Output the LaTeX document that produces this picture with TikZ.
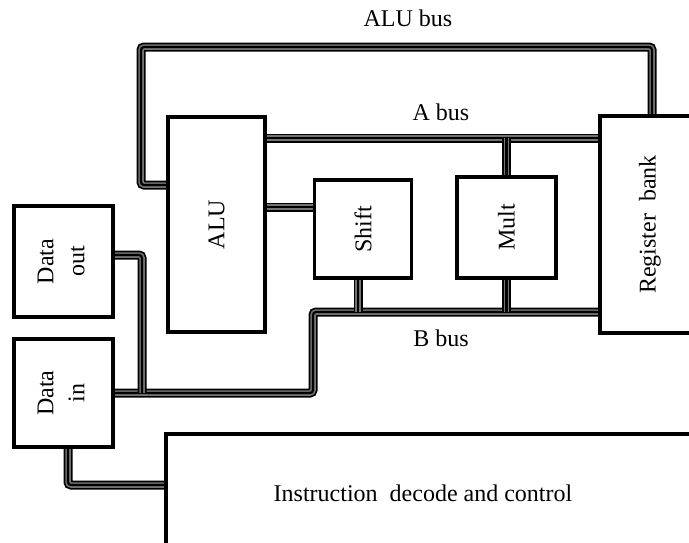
\documentclass[tikz,border=0pt]{standalone}
\usepackage{fontspec}
\setmainfont{Liberation Serif}
\usepackage{graphicx}
\begin{document}
\begin{tikzpicture}[x=1pt,y=-1pt,
  box/.style={draw=black, line width=3.5pt, fill=white, inner sep=0pt, rectangle},
  bus/.style={draw=black, line width=9pt, rounded corners=3pt,
     postaction={draw=black!55, line width=5.5pt, rounded corners=3pt},
     postaction={draw=black, line width=2.2pt, rounded corners=3pt}},
  lbl/.style={inner sep=0pt},
  every node/.style={font=\fontsize{24}{27}\selectfont}]
\clip (0,0) rectangle (689,542);
\fill[white] (0,0) rectangle (689,542);
% nodes (placed first so their anchors can be used)
\node[box, minimum width=97pt, minimum height=215pt] (alu) at (216.5,224.5) {\rotatebox{90}{ALU}};
\node[box, minimum width=97pt, minimum height=98pt] (shift) at (363,229) {\rotatebox{90}{Shift}};
\node[box, minimum width=99pt, minimum height=101pt] (mult) at (506.5,227.5) {\rotatebox{90}{Mult}};
\node[box, minimum width=100pt, minimum height=217pt] (reg) at (650,224.5) {\rotatebox{90}{Register\ \ bank}};
\node[box, minimum width=99pt, minimum height=111pt] (dout) at (63.5,261.5) {\rotatebox{90}{\begin{tabular}{@{}c@{}}Data\\[4pt] out\end{tabular}}};
\node[box, minimum width=99pt, minimum height=108pt] (din) at (63.5,393) {\rotatebox{90}{\begin{tabular}{@{}c@{}}Data\\[4pt] in\end{tabular}}};
\node[box, minimum width=540pt, minimum height=118pt] (instr) at (436,493) {\hspace*{-26pt}Instruction\ \ decode and control};
% coordinates
\coordinate (c1) at (141,185);
\coordinate (c2) at (141,47);
\coordinate (c3) at (652,47);
\coordinate (ay) at (0,138);
\coordinate (sy) at (0,207);
\coordinate (b1) at (313,312);
\coordinate (b2) at (313,393);
\coordinate (sx) at (358,0);
\coordinate (d1) at (142,255);
\coordinate (d2) at (142,393);
\coordinate (e1) at (68,485);
% buses
\draw[bus] (alu.west |- c1) -- (c1) -- (c2) -- (c3) -- (c3 |- reg.north);
\draw[bus] (alu.east |- ay) -- (reg.west |- ay);
\draw[bus] (mult.north) -- (mult.north |- ay);
\draw[bus] (alu.east |- sy) -- (shift.west |- sy);
\draw[bus] (reg.west |- b1) -- (b1) -- (b2) -- (din.east |- b2);
\draw[bus] (shift.south -| sx) -- (sx |- b1);
\draw[bus] (mult.south) -- (mult.south |- b1);
\draw[bus] (dout.east |- d1) -- (d1) -- (d2);
\draw[bus] (din.south -| e1) -- (e1) -- (instr.west |- e1);
% redraw boxes on top of the bus ends
\node[box, minimum width=97pt, minimum height=215pt] at (alu) {\rotatebox{90}{ALU}};
\node[box, minimum width=97pt, minimum height=98pt] at (shift) {\rotatebox{90}{Shift}};
\node[box, minimum width=99pt, minimum height=101pt] at (mult) {\rotatebox{90}{Mult}};
\node[box, minimum width=100pt, minimum height=217pt] at (reg) {\rotatebox{90}{Register\ \ bank}};
\node[box, minimum width=99pt, minimum height=111pt] at (dout) {\rotatebox{90}{\begin{tabular}{@{}c@{}}Data\\[4pt] out\end{tabular}}};
\node[box, minimum width=99pt, minimum height=108pt] at (din) {\rotatebox{90}{\begin{tabular}{@{}c@{}}Data\\[4pt] in\end{tabular}}};
\node[box, minimum width=540pt, minimum height=118pt] at (instr) {\hspace*{-26pt}Instruction\ \ decode and control};
% labels
\node[lbl] (lalu) at (408,18) {ALU bus};
\node[lbl] (la) at (441,112) {A bus};
\node[lbl] (lb) at (441,338) {B bus};
\end{tikzpicture}
\end{document}
